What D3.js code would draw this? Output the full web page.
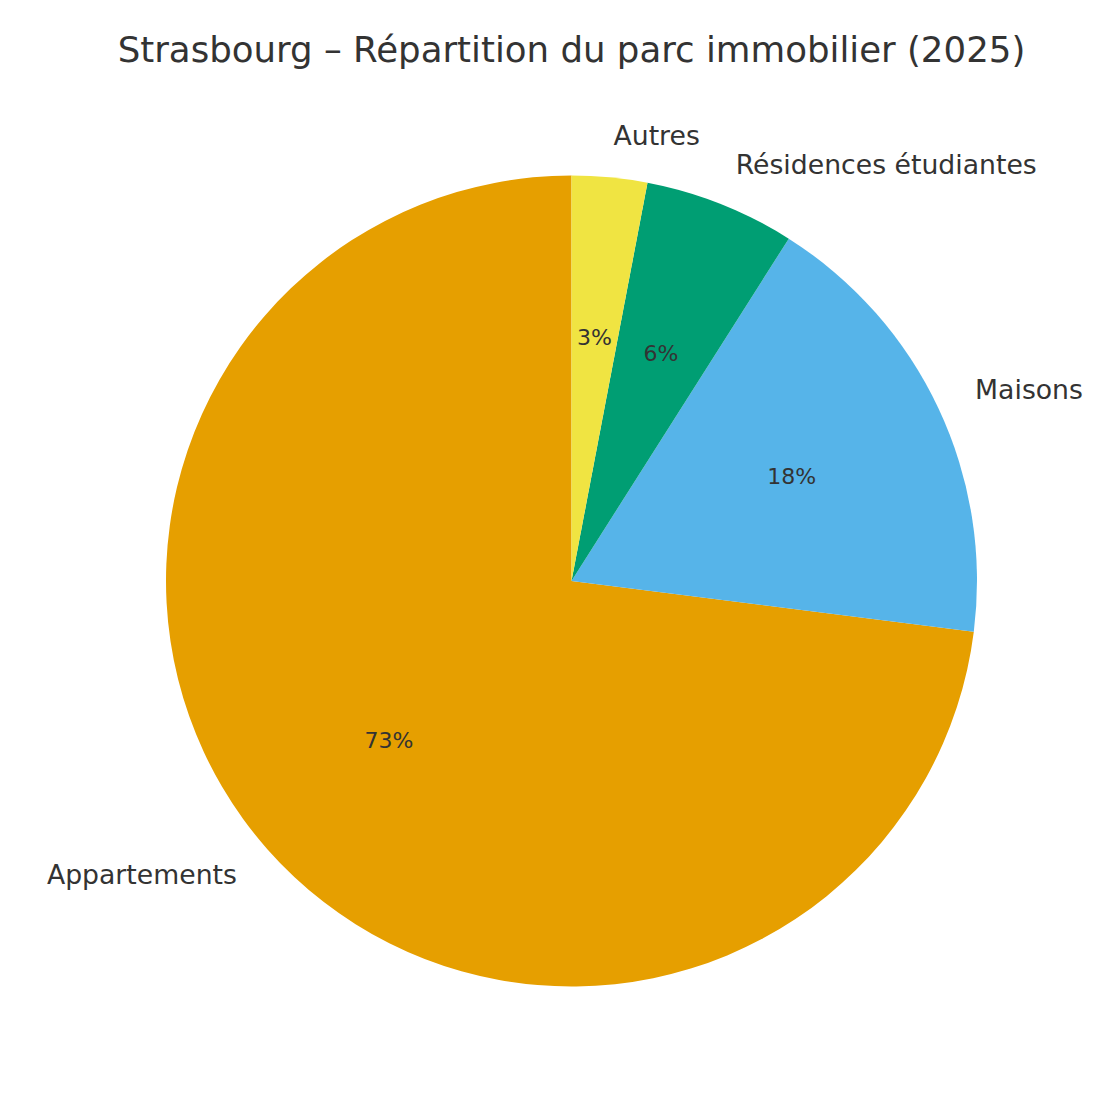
<!DOCTYPE html>
<html>
<head>
<meta charset="utf-8">
<script src="https://cdn.jsdelivr.net/npm/d3@7"></script>
<style>
  body { margin: 0; background: #fff; }
  svg text { font-family: "DejaVu Sans", sans-serif; fill: #333; }
</style>
</head>
<body>
<div id="canvas"></div>
<script>
// donnees
var categories = ["Appartements", "Maisons", "Résidences étudiantes", "Autres"];
var shares = [73, 18, 6, 3];
var palette = ["#E69F00", "#56B4E9", "#009E73", "#F0E442"];

var W = 1120, H = 1120;
var cx = 571.5, cy = 581, R = 405.5;

var svg = d3.select("#canvas").append("svg")
  .attr("width", W)
  .attr("height", H);

svg.append("text")
  .attr("x", cx)
  .attr("y", 49)
  .attr("text-anchor", "middle")
  .attr("dominant-baseline", "central")
  .style("font-size", "35.6px")
  .text("Strasbourg – Répartition du parc immobilier (2025)");

var data = categories.map(function(c, i) { return {name: c, value: shares[i], color: palette[i]}; });

// sens anti-horaire depuis le haut, comme matplotlib
var pie = d3.pie().sort(null).value(function(d) { return d.value; })
  .startAngle(0).endAngle(-2 * Math.PI);
var arcs = pie(data);
var arc = d3.arc().innerRadius(0).outerRadius(R);

var g = svg.append("g").attr("transform", "translate(" + cx + "," + cy + ")");

g.selectAll("path")
  .data(arcs)
  .enter().append("path")
  .attr("d", arc)
  .attr("fill", function(d) { return d.data.color; });

function pos(d, k) {
  var a = (d.startAngle + d.endAngle) / 2;
  return [k * R * Math.sin(a), -k * R * Math.cos(a)];
}

g.selectAll("text.lbl")
  .data(arcs)
  .enter().append("text")
  .attr("class", "lbl")
  .attr("x", function(d) { return pos(d, 1.1)[0]; })
  .attr("y", function(d) { return pos(d, 1.1)[1] - 1.5; })
  .attr("text-anchor", function(d) { return pos(d, 1.1)[0] < 0 ? "end" : "start"; })
  .attr("dominant-baseline", "central")
  .style("font-size", "26.7px")
  .text(function(d) { return d.data.name; });

g.selectAll("text.pct")
  .data(arcs)
  .enter().append("text")
  .attr("class", "pct")
  .attr("x", function(d) { return pos(d, 0.6)[0]; })
  .attr("y", function(d) { return pos(d, 0.6)[1] - 1; })
  .attr("text-anchor", "middle")
  .attr("dominant-baseline", "central")
  .style("font-size", "22px")
  .text(function(d) { return d.data.value + "%"; });
</script>
</body>
</html>
